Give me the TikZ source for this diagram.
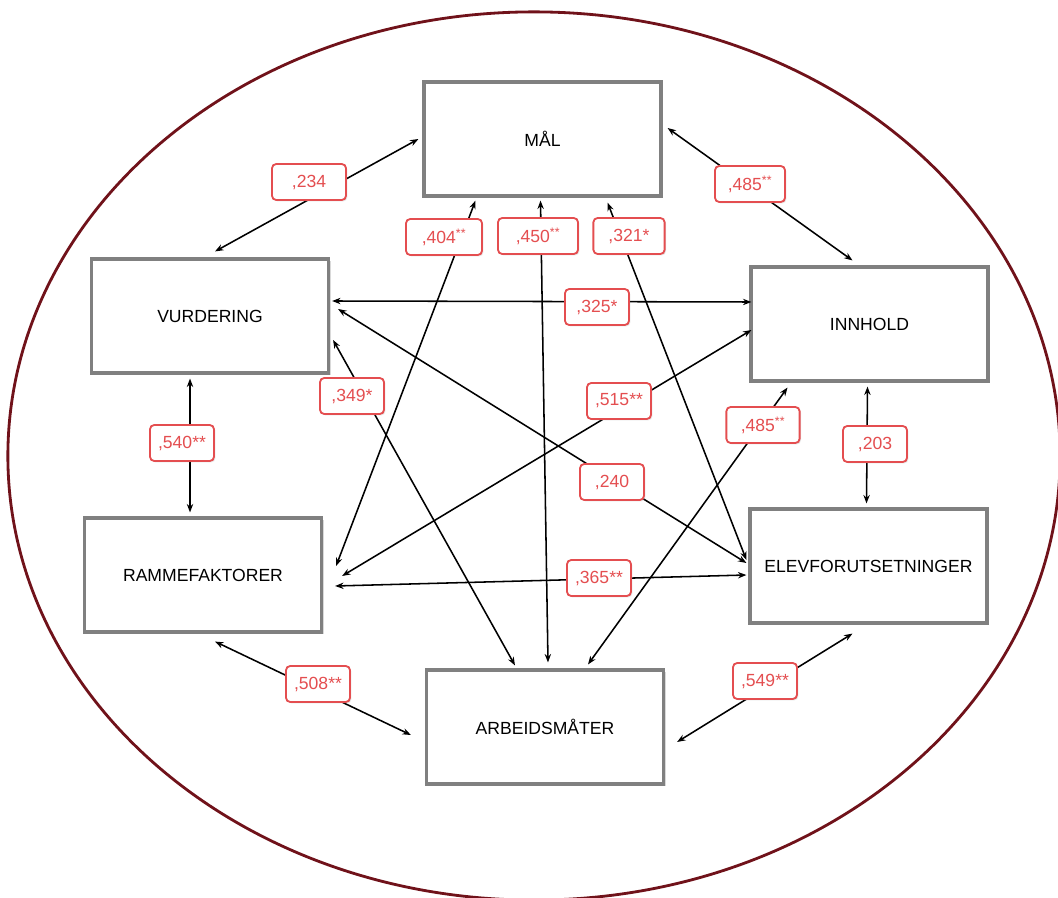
\documentclass[tikz,border=0pt]{standalone}
\usepackage{fontspec}
\setmainfont{Liberation Sans}
\usetikzlibrary{arrows.meta,calc,shadows}
\definecolor{boxgray}{RGB}{128,128,128}
\definecolor{ovalred}{RGB}{112,18,26}
\definecolor{labelred}{RGB}{228,78,80}

\begin{document}
\begin{tikzpicture}[x=0.025cm, y=-0.025cm]
	\tikzstyle{factor} = [rectangle, minimum width=5.925cm, minimum height=2.85cm, 
	text centered, draw=boxgray, line width=2.2pt, fill=white, font=\fontsize{12.5}{15}\selectfont,
	drop shadow={shadow xshift=1.5pt, shadow yshift=-1.5pt, opacity=0.3}]
	\tikzstyle{corr} = [rectangle, rounded corners=3pt, minimum width=1.6cm, minimum height=0.9cm, 
	inner xsep=3pt, draw=labelred, line width=1.3pt, fill=white, text=labelred, font=\fontsize{12.5}{14}\selectfont,
	drop shadow={shadow xshift=1pt, shadow yshift=-1pt, opacity=0.2}]
	\tikzstyle{arrow} = [line width=1.1pt, {Stealth[length=6pt,width=4.5pt]}-{Stealth[length=6pt,width=4.5pt]}]
	\useasboundingbox (0,0) rectangle (1058,898);
	\draw [ovalred, line width=2pt] (534,456) ellipse [x radius=13.15cm, y radius=11.1cm];
	\node (mal) [factor] at (542.5,139) {MÅL};
	\node (vurdering) [factor] at (210,316) {VURDERING};
	\node (innhold) [factor] at (869.5,324) {INNHOLD};
	\node (rammefaktorer) [factor] at (203,575) {RAMMEFAKTORER};
	\node (elevforutsetninger) [factor] at (868.5,566) {ELEVFORUTSETNINGER};
	\node (arbeidsmater) [factor] at (545,727) {ARBEIDSMÅTER};
	\draw [arrow] ($(mal.west)+(-4,0)$) -- ($(vurdering.north)+(5,-6)$);
	\draw [arrow] ($(mal.east)+(5,-11)$) -- ($(innhold.north)+(-17,-5)$);
	\draw [arrow] ($(mal.south)+(-67,3)$) -- ($(rammefaktorer.east)+(13,-9)$);
	\draw [arrow] ($(mal.south)+(-2,3)$) -- ($(arbeidsmater.north)+(3,-6)$);
	\draw [arrow] ($(mal.south)+(65,5)$) -- ($(elevforutsetninger.west)+(-2,-6)$);
	\draw [arrow] ($(vurdering.east)+(2,-15)$) -- ($(innhold.west)+(2,-22)$);
	\draw [arrow] ($(vurdering.east)+(3,24)$) -- ($(arbeidsmater.north)+(-30,-3)$);
	\draw [arrow] ($(vurdering.east)+(8,-7)$) -- ($(elevforutsetninger.west)+(-2,-3)$);
	\draw [arrow] ($(innhold.west)+(2,6)$) -- ($(rammefaktorer.east)+(19,1)$);
	\draw [arrow] ($(innhold.south)+(-82,5)$) -- ($(arbeidsmater.north)+(43,-4)$);
	\draw [arrow] ($(vurdering.south)+(-20,4)$) -- ($(rammefaktorer.north)+(-13,-4)$);
	\draw [arrow] ($(innhold.south)+(-2,4)$) -- ($(elevforutsetninger.north)+(-2,-4)$);
	\draw [arrow] ($(rammefaktorer.east)+(12,11)$) -- ($(elevforutsetninger.west)+(-2,9)$);
	\draw [arrow] ($(rammefaktorer.south)+(12,8)$) -- ($(arbeidsmater.west)+(-14,8)$);
	\draw [arrow] ($(elevforutsetninger.south)+(-16,9)$) -- ($(arbeidsmater.east)+(12,15)$);
	% correlation labels
	\node (corrMalVurdering) [corr, minimum width=1.85cm] at (309,182) {,234};
	\node (corrMalInnhold) [corr, minimum width=1.75cm] at (750,184) {,485\textsuperscript{**}};
	\node (corrMalRamme) [corr, minimum width=1.9cm] at (444,237) {,404\textsuperscript{**}};
	\node (corrMalArbeid) [corr, minimum width=2cm] at (538,236) {,450\textsuperscript{**}};
	\node (corrMalElev) [corr, minimum width=1.78cm] at (629,236) {,321*};
	\node (corrVurderingInnhold) [corr] at (597,307) {,325*};
	\node (corrVurderingArbeid) [corr] at (352,396) {,349*};
	\node (corrInnholdRamme) [corr] at (619,401) {,515**};
	\node (corrVurderingElev) [corr] at (612,482) {,240};
	\node (corrInnholdArbeid) [corr, minimum width=1.83cm] at (763,425) {,485\textsuperscript{**}};
	\node (corrInnholdElev) [corr] at (875,444) {,203};
	\node (corrVurderingRamme) [corr] at (182,443) {,540**};
	\node (corrRammeElev) [corr] at (599,578) {,365**};
	\node (corrRammeArbeid) [corr] at (318,684) {,508**};
	\node (corrElevArbeid) [corr] at (765,681) {,549**};
\end{tikzpicture}
\end{document}
